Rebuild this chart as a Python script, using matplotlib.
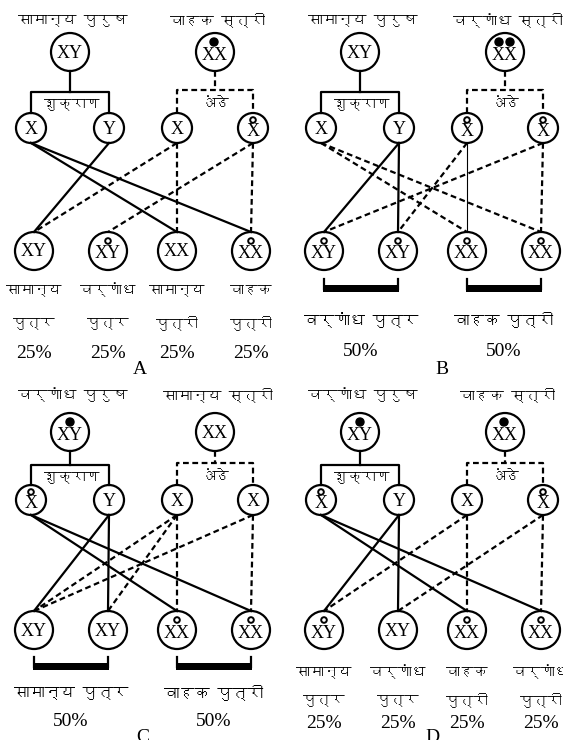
import matplotlib
matplotlib.use("Agg")
import matplotlib.pyplot as plt
from matplotlib.patches import Circle, Rectangle
from matplotlib import font_manager, ft2font

# --- data -------------------------------------------------------------
panels = ["A", "B", "C", "D"]
male_titles = ["सामान्य पुरुष", "सामान्य पुरुष", "वर्णांध पुरुष", "वर्णांध पुरुष"]
female_titles = ["वाहक स्त्री", "वर्णांध स्त्री", "सामान्य स्त्री", "वाहक स्त्री"]
male_dots = [0, 0, 1, 1]
female_dots = [1, 2, 0, 1]
male_gametes = ["X", "Y"]
female_gametes = ["X", "X"]
male_gamete_marks = [[0, 0], [0, 0], [1, 0], [1, 0]]
female_gamete_marks = [[0, 1], [1, 1], [0, 0], [0, 1]]
children = ["XY", "XY", "XX", "XX"]
child_marks = [[0, 1, 0, 1], [1, 1, 1, 1], [0, 0, 1, 1], [1, 0, 1, 1]]
sperm_label = "शुक्राण"
egg_label = "अंडे"

# links: (gamete index, child index, style)  s=solid d=dashed t=thin
male_links = [
    [(0, 2, "s"), (0, 3, "s"), (1, 0, "s")],
    [(0, 2, "d"), (0, 3, "d"), (1, 0, "s"), (1, 1, "s")],
    [(0, 2, "s"), (0, 3, "s"), (1, 0, "s"), (1, 1, "s")],
    [(0, 2, "s"), (0, 3, "s"), (1, 0, "s"), (1, 1, "s")],
]
female_links = [
    [(0, 0, "d"), (0, 2, "d"), (1, 1, "d"), (1, 3, "d")],
    [(0, 1, "d"), (0, 2, "t"), (1, 0, "d"), (1, 3, "d")],
    [(0, 0, "d"), (0, 1, "d"), (0, 2, "d"), (1, 0, "d"), (1, 3, "d")],
    [(0, 0, "d"), (0, 2, "d"), (1, 1, "d"), (1, 3, "d")],
]

# per-child captions (panels A and D), grouped captions (B and C)
child_word1 = {"A": ["सामान्य", "वर्णांध", "सामान्य", "वाहक"],
               "D": ["सामान्य", "वर्णांध", "वाहक", "वर्णांध"]}
child_word2 = ["पुत्र", "पुत्र", "पुत्री", "पुत्री"]
child_pct = ["25%", "25%", "25%", "25%"]
group_labels = {"B": ["वर्णांध पुत्र", "वाहक पुत्री"],
                "C": ["सामान्य पुत्र", "वाहक पुत्री"]}
group_pct = ["50%", "50%"]

# --- fonts ------------------------------------------------------------
deva = None
for f in font_manager.fontManager.ttflist:
    try:
        if 0x0915 in ft2font.FT2Font(f.fname).get_charmap():
            deva = f.name
            break
    except Exception:
        continue
HINDI = [deva, "DejaVu Sans"] if deva else ["DejaVu Sans"]
SERIF = ["Liberation Serif", "DejaVu Serif"]

# --- layout -----------------------------------------------------------
panel_x = [0, 290, 0, 290]
rows = [dict(title=20, parent=52, bracket=92, glabel=104, gamete=128, child=251,
             w1=290, w2=323, pct=353, tick=279, bar=289, glab=320, gpct=352, letter=370),
        dict(title=395, parent=432, bracket=465, glabel=477, gamete=500, child=630,
             w1=672, w2=700, pct=723, tick=657, bar=667, glab=693, gpct=721, letter=737)]
male_x, female_x = 70, 215
male_gx = [31, 109]
female_gx = [177, 253]
child_x = [34, 108, 177, 251]
letter_x = [140, 152, 143, 142]
R_PAR, R_GAM, R_CH = 19, 15, 19
LW = 1.6
DASH = (0, (2.6, 1.6))
T_TITLE, T_GAM, T_WORD, T_GROUP = 10.5, 10, 10, 11

fig = plt.figure(figsize=(5.63, 7.40), dpi=100)
ax = fig.add_axes([0, 0, 1, 1])
ax.set_xlim(0, 563)
ax.set_ylim(740, 0)
ax.axis("off")


def circle(x, y, r):
    ax.add_patch(Circle((x, y), r, fill=False, lw=LW, ec="black"))


def small_ring(x, y):
    ax.add_patch(Circle((x, y), 2.8, fill=False, lw=1.4, ec="black"))


def dot(x, y):
    ax.add_patch(Circle((x, y), 4, fc="black", ec="black"))


def serif(x, y, s, size=13):
    ax.text(x, y, s, ha="center", va="center", family=SERIF, fontsize=size)


def hindi(x, y, s, size=T_TITLE):
    ax.text(x, y, s, ha="center", va="center", family=HINDI, fontsize=size)


styles = {"s": dict(lw=LW, ls="-"), "d": dict(lw=LW, ls=DASH), "t": dict(lw=0.8, ls="-")}

for i, p in enumerate(panels):
    ox = panel_x[i]
    L = rows[i // 2]
    mx, fx = ox + male_x, ox + female_x
    mgx = [ox + v for v in male_gx]
    fgx = [ox + v for v in female_gx]
    cx = [ox + v for v in child_x]
    py, gy, cy = L["parent"], L["gamete"], L["child"]

    # parents
    hindi(mx + 3, L["title"], male_titles[i])
    hindi(fx + 3, L["title"], female_titles[i])
    circle(mx, py, R_PAR)
    circle(fx, py, R_PAR)
    serif(mx, py + (3 if male_dots[i] else 1), "XY")
    serif(fx, py + (3 if female_dots[i] else 1), "XX")
    if male_dots[i]:
        dot(mx, py - 10)
    if female_dots[i] == 1:
        dot(fx - 1, py - 10)
    elif female_dots[i] == 2:
        dot(fx - 6, py - 10)
        dot(fx + 5, py - 10)

    # brackets to gametes
    ax.plot([mx, mx], [py + R_PAR, L["bracket"]], color="black", lw=LW)
    ax.plot([mgx[0], mgx[0], mgx[1], mgx[1]],
            [gy - R_GAM, L["bracket"], L["bracket"], gy - R_GAM], color="black", lw=LW)
    ax.plot([fx, fx], [py + R_PAR, L["bracket"] - 2], color="black", lw=LW, ls=DASH)
    ax.plot([fgx[0], fgx[0], fgx[1], fgx[1]],
            [gy - R_GAM, L["bracket"] - 2, L["bracket"] - 2, gy - R_GAM],
            color="black", lw=LW, ls=DASH)
    hindi((mgx[0] + mgx[1]) / 2 + 2, L["glabel"], sperm_label, size=T_GAM)
    hindi((fgx[0] + fgx[1]) / 2, L["glabel"], egg_label, size=T_GAM)

    # gametes
    for xs, letters, marks in ((mgx, male_gametes, male_gamete_marks[i]),
                               (fgx, female_gametes, female_gamete_marks[i])):
        for x, s, m in zip(xs, letters, marks):
            circle(x, gy, R_GAM)
            if m:
                small_ring(x, gy - 8)
                serif(x, gy + 4, s)
            else:
                serif(x, gy + 1, s)

    # offspring
    for j, (x, s) in enumerate(zip(cx, children)):
        circle(x, cy, R_CH)
        if child_marks[i][j]:
            small_ring(x, cy - 10)
            serif(x, cy + 3, s)
        else:
            serif(x, cy + 1, s)

    # crosses
    for xs, links in ((mgx, male_links[i]), (fgx, female_links[i])):
        for g, c, st in links:
            ax.plot([xs[g], cx[c]], [gy + R_GAM, cy - R_CH], color="black",
                    **styles[st])

    # captions
    if p in child_word1:
        for j, x in enumerate(cx):
            hindi(x, L["w1"], child_word1[p][j], size=T_WORD)
            hindi(x, L["w2"], child_word2[j], size=T_WORD)
            serif(x, L["pct"], child_pct[j], size=14)
    else:
        for k in range(2):
            x0, x1 = cx[2 * k], cx[2 * k + 1]
            ax.add_patch(Rectangle((x0 - 1, L["bar"] - 4), x1 - x0 + 2, 7, color="black", lw=0))
            ax.plot([x0, x0], [L["tick"], L["bar"]], color="black", lw=LW)
            ax.plot([x1, x1], [L["tick"], L["bar"]], color="black", lw=LW)
            hindi((x0 + x1) / 2, L["glab"], group_labels[p][k], size=T_GROUP)
            serif((x0 + x1) / 2, L["gpct"], group_pct[k], size=14)
    serif(ox + letter_x[i], L["letter"], p, size=14)

fig.savefig("out.png", dpi=100, facecolor="white")
